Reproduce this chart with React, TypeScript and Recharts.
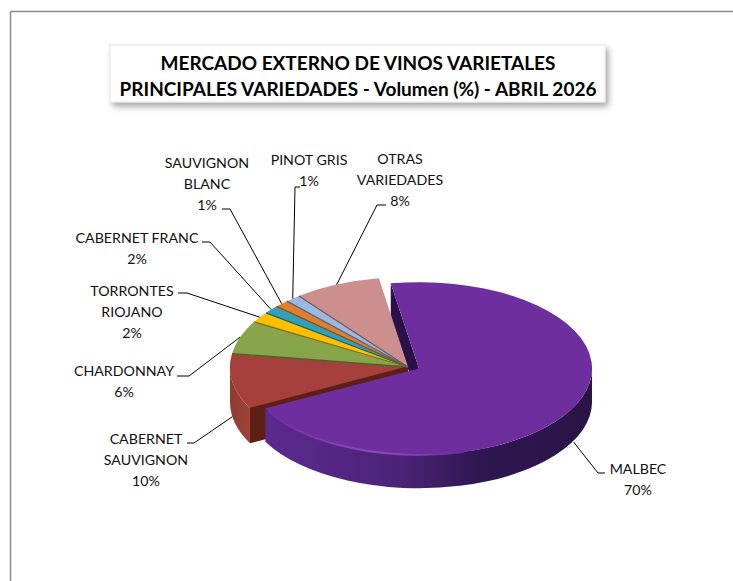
import React from "react";
import { PieChart, Pie } from "recharts";

const categories = ["CABERNET SAUVIGNON", "CHARDONNAY", "TORRONTES RIOJANO", "CABERNET FRANC", "SAUVIGNON BLANC", "PINOT GRIS", "OTRAS VARIEDADES", "MALBEC"];
const shares = [10, 6, 1.9, 1.5, 1.3, 1.4, 7.9, 70];
const chartData = categories.map((name, i) => ({ name, value: shares[i] }));

const titleLines = ["MERCADO EXTERNO DE VINOS VARIETALES", "PRINCIPALES VARIEDADES - Volumen (%) - ABRIL 2026"];

const labelLines: Record<string, string[]> = {
  "CABERNET SAUVIGNON": ["CABERNET", "SAUVIGNON"],
  CHARDONNAY: ["CHARDONNAY"],
  "TORRONTES RIOJANO": ["TORRONTES", "RIOJANO"],
  "CABERNET FRANC": ["CABERNET FRANC"],
  "SAUVIGNON BLANC": ["SAUVIGNON", "BLANC"],
  "PINOT GRIS": ["PINOT GRIS"],
  "OTRAS VARIEDADES": ["OTRAS", "VARIEDADES"],
  MALBEC: ["MALBEC"],
};

const topColors: Record<string, string> = {
  "CABERNET SAUVIGNON": "#a5403d", CHARDONNAY: "#87a54b", "TORRONTES RIOJANO": "#ffc000", "CABERNET FRANC": "#31a0b8",
  "SAUVIGNON BLANC": "#e0802f", "PINOT GRIS": "#9db8de", "OTRAS VARIEDADES": "#cd8f8e", MALBEC: "#6f2e9e",
};
const edgeColors: Record<string, string> = {
  "CABERNET SAUVIGNON": "#5e1f17", CHARDONNAY: "#4e6228", "TORRONTES RIOJANO": "#8a6a00", "CABERNET FRANC": "#1c5f6e",
  "SAUVIGNON BLANC": "#8a4a14", "PINOT GRIS": "#55657f", "OTRAS VARIEDADES": "#6d5a5a", MALBEC: "#2a1248",
};

// layout of the label text and leader elbows, kept apart from the data
const labelLayout: Record<string, { x: number; y: number; ex: number; ey: number; lx: number }> = {
  "CABERNET SAUVIGNON": { x: 146, y: 438, ex: 194, ey: 443, lx: 187 },
  CHARDONNAY: { x: 124, y: 370, ex: 189, ey: 376, lx: 177 },
  "TORRONTES RIOJANO": { x: 132, y: 290, ex: 187, ey: 293, lx: 178 },
  "CABERNET FRANC": { x: 137, y: 237, ex: 210, ey: 242, lx: 202 },
  "SAUVIGNON BLANC": { x: 207, y: 162, ex: 230, ey: 209, lx: 222 },
  "PINOT GRIS": { x: 309, y: 159, ex: 295, ey: 187, lx: 300 },
  "OTRAS VARIEDADES": { x: 400, y: 158, ex: 377, ey: 205, lx: 386 },
  MALBEC: { x: 638, y: 468, ex: 598, ey: 473, lx: 605 },
};

const FONT = "Lato, 'Open Sans', sans-serif";
const SQUASH = 0.505;
const DEPTH = 35;
const EXPLODED = "MALBEC";
const FACE_SLICES = ["MALBEC", "CABERNET SAUVIGNON"];
const EXPLODE_DX = 11;
const EXPLODE_DY = 1.5;
const EXPLODE_SCALE = 0.972;

const rad = (a: number) => (a * Math.PI) / 180;
const geom = (p: any) => {
  const ex = p.name === EXPLODED;
  const rx = p.outerRadius * (ex ? EXPLODE_SCALE : 1);
  const ry = p.outerRadius * (ex ? 0.485 : SQUASH);
  const cx = p.cx + (ex ? EXPLODE_DX : 0);
  const cy = p.cy + (ex ? EXPLODE_DY : 0);
  const pt = (a: number, dy = 0): [number, number] => [cx + rx * Math.cos(rad(a)), cy - ry * Math.sin(rad(a)) + dy];
  return { ex, rx, ry, cx, cy, pt };
};
const f = (n: number) => n.toFixed(2);

function WallShape(p: any) {
  const { rx, ry, cx, cy, pt, ex } = geom(p);
  const s = p.startAngle;
  const e = p.endAngle;
  const edge = edgeColors[p.name];
  const [sx, sy] = pt(s);
  const depth = ex ? DEPTH - 1.5 : DEPTH;
  const face = `M${f(cx)},${f(cy)} L${f(sx)},${f(sy)} L${f(sx)},${f(sy + depth)} L${f(cx)},${f(cy + depth)} Z`;
  const norm = (a: number) => ((a % 360) + 360) % 360;
  const hi = norm(s);
  const lo = hi - (s - e);
  const ranges: [number, number][] = [];
  for (const [a, b] of [[360, 180], [0, -180]] as [number, number][]) {
    const h = Math.min(hi, a);
    const l = Math.max(lo, b);
    if (h > l) ranges.push([h, l]);
  }
  const grad = ex ? "url(#wallPurple)" : p.name === "CABERNET SAUVIGNON" ? "url(#wallRed)" : edge;
  return (
    <g>
      {FACE_SLICES.includes(p.name) && <path d={face} fill={edge} />}
      {ranges.map(([h, l], i) => {
        const [ax, ay] = pt(h);
        const [bx, by] = pt(l);
        return (
          <path
            key={i}
            d={`M${f(ax)},${f(ay)} A${f(rx)},${f(ry)} 0 0 1 ${f(bx)},${f(by)} L${f(bx)},${f(by + depth)} A${f(rx)},${f(ry)} 0 0 0 ${f(ax)},${f(ay + depth)} Z`}
            fill={grad}
          />
        );
      })}
    </g>
  );
}

function TopShape(p: any) {
  const { rx, ry, cx, cy, pt, ex } = geom(p);
  const s = p.startAngle;
  const e = p.endAngle;
  const [sx, sy] = pt(s);
  const [ex2, ey2] = pt(e);
  const large = s - e > 180 ? 1 : 0;
  const [hx, hy] = pt(210);
  const [jx, jy] = pt(285);
  return (
    <g>
      <path d={`M${f(cx)},${f(cy)} L${f(sx)},${f(sy)} A${f(rx)},${f(ry)} 0 ${large} 1 ${f(ex2)},${f(ey2)} Z`} fill={topColors[p.name]} />
      {!ex && <line x1={cx} y1={cy} x2={sx} y2={sy} stroke={edgeColors[p.name]} strokeWidth={1.3} />}
      {ex && (
        <path
          d={`M${f(hx)},${f(hy)} A${f(rx)},${f(ry)} 0 0 0 ${f(jx)},${f(jy)}`}
          fill="none"
          stroke="url(#rimGlow)"
          strokeWidth={2}
          strokeLinecap="round"
        />
      )}
    </g>
  );
}

function SliceLabel(p: any) {
  const name = p.name;
  const layout = labelLayout[name];
  const { pt } = geom(p);
  const mid = (p.startAngle + p.endAngle) / 2;
  const m = ((mid % 360) + 360) % 360;
  const [tx, ty] = pt(mid, m > 180 ? DEPTH : 0);
  const lines = [...labelLines[name], `${Math.round(p.value)}%`];
  return (
    <g>
      <path d={`M${f(tx)},${f(ty)} L${layout.ex},${layout.ey} L${layout.lx},${layout.ey}`} fill="none" stroke="#000" strokeWidth={1} />
      {lines.map((t, i) => (
        <text key={i} x={layout.x} y={layout.y + i * 21} textAnchor="middle" dominantBaseline="central" fontFamily={FONT} fontSize={14.2} fill="#111">
          {t}
        </text>
      ))}
    </g>
  );
}

export default function App() {
  return (
    <div style={{ position: "absolute", left: 0, top: 0, width: 733, height: 581, background: "#fff" }}>
      <PieChart width={733} height={581} margin={{ top: 0, right: 0, bottom: 0, left: 0 }}>
        <defs>
          <linearGradient id="wallPurple" gradientUnits="userSpaceOnUse" x1={265} y1={0} x2={592} y2={0}>
            <stop offset="0" stopColor="#5a2a8e" />
            <stop offset="0.4" stopColor="#4d2379" />
            <stop offset="0.65" stopColor="#2f1752" />
            <stop offset="1" stopColor="#2a1446" />
          </linearGradient>
          <linearGradient id="wallRed" gradientUnits="userSpaceOnUse" x1={230} y1={0} x2={262} y2={0}>
            <stop offset="0" stopColor="#8f3a32" />
            <stop offset="1" stopColor="#a9483e" />
          </linearGradient>
          <linearGradient id="rimGlow" gradientUnits="userSpaceOnUse" x1={268} y1={0} x2={460} y2={0}>
            <stop offset="0" stopColor="#6f2e9e" />
            <stop offset="0.55" stopColor="#8a4cc0" />
            <stop offset="1" stopColor="#6f2e9e" />
          </linearGradient>
          <filter id="boxShadow" x="-5%" y="-20%" width="112%" height="150%">
            <feDropShadow dx={3} dy={4} stdDeviation={3} floodColor="#000" floodOpacity={0.35} />
          </filter>
        </defs>
        <line x1={10.5} y1={11.5} x2={733} y2={11.5} stroke="#8c8c8c" strokeWidth={1.5} />
        <line x1={10.5} y1={11.5} x2={10.5} y2={581} stroke="#8c8c8c" strokeWidth={1.5} />
        <rect x={110} y={45} width={495} height={57} fill="#fff" stroke="#e4e4e4" strokeWidth={1} filter="url(#boxShadow)" />
        {titleLines.map((t, i) => (
          <text key={t} x={358} y={62 + i * 26} textAnchor="middle" dominantBaseline="central" fontFamily={FONT} fontWeight={700} fontSize={19} fill="#000">
            {t}
          </text>
        ))}
        <Pie
          data={chartData}
          dataKey="value"
          nameKey="name"
          cx={408}
          cy={367}
          outerRadius={178}
          startAngle={207.4}
          endAngle={-152.6}
          stroke="none"
          isAnimationActive={false}
          shape={WallShape}
          label={false}
          labelLine={false}
        />
        <Pie
          data={chartData}
          dataKey="value"
          nameKey="name"
          cx={408}
          cy={367}
          outerRadius={178}
          startAngle={207.4}
          endAngle={-152.6}
          stroke="none"
          isAnimationActive={false}
          shape={TopShape}
          label={SliceLabel}
          labelLine={false}
        />
      </PieChart>
    </div>
  );
}
